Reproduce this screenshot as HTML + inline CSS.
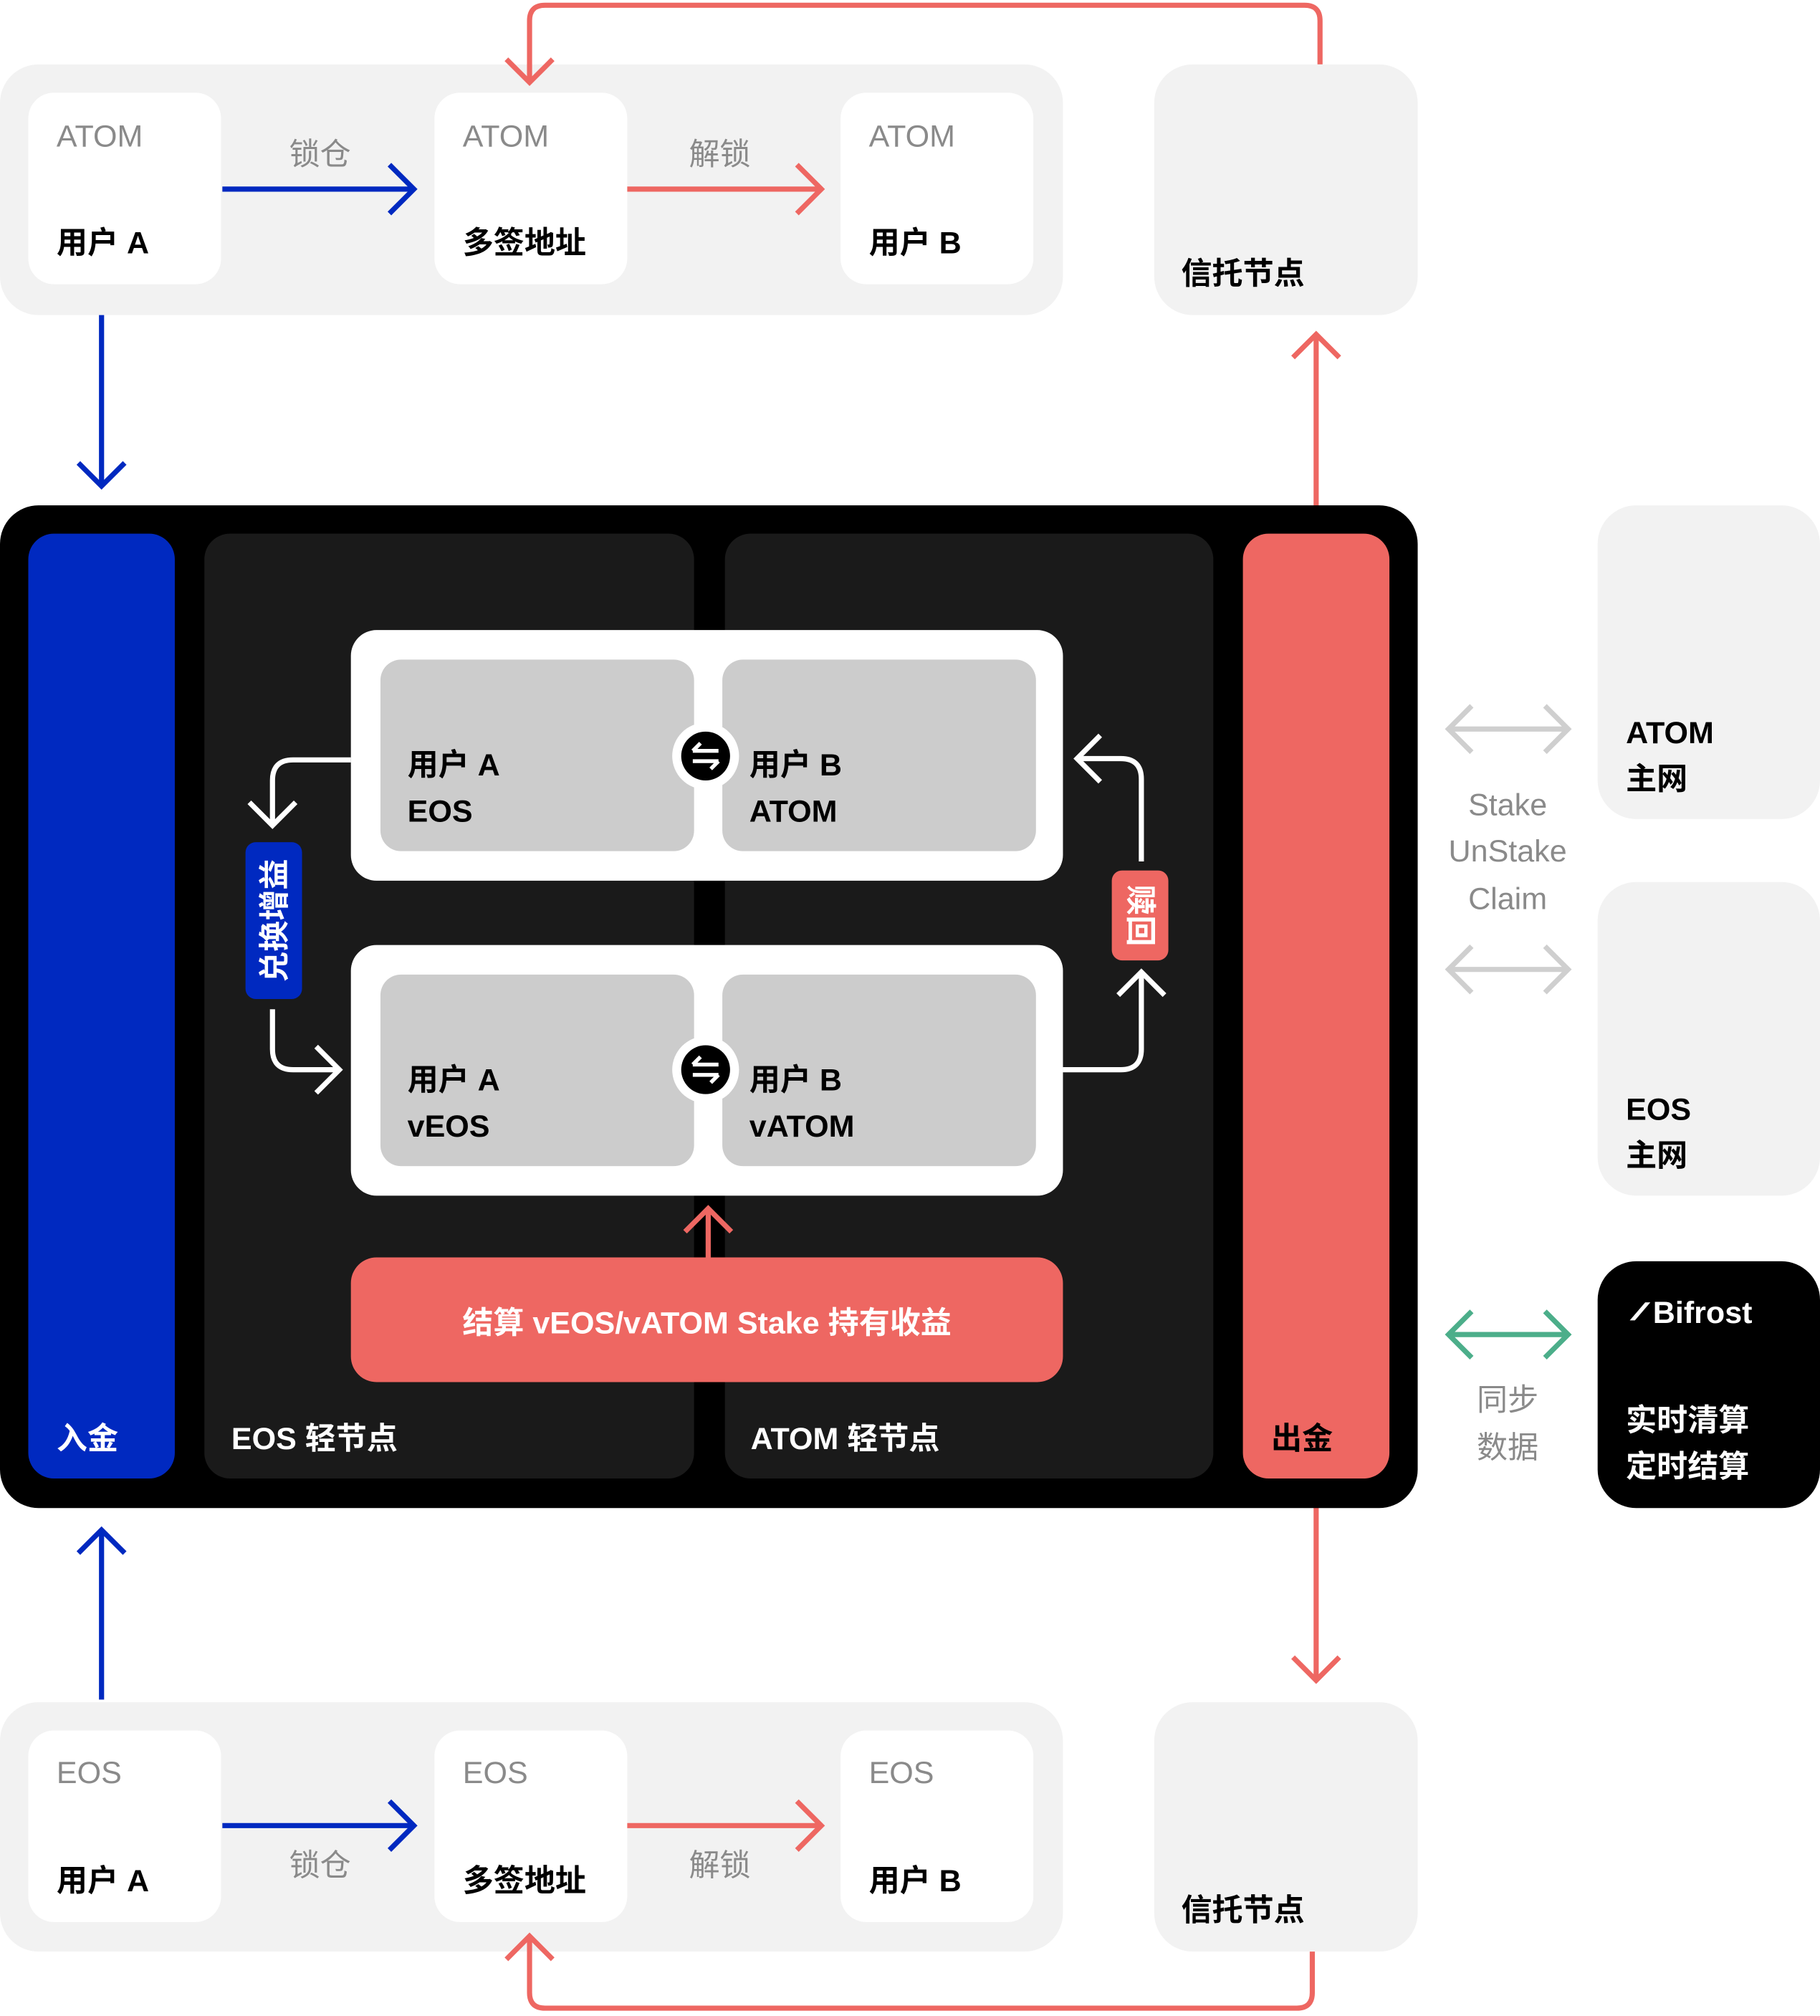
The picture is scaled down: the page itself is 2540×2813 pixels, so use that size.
<!DOCTYPE html>
<html><head><meta charset="utf-8"><style>
html,body{margin:0;padding:0;background:#fff;}
svg{display:block;}
text{font-family:"Liberation Sans","Noto Sans CJK SC",sans-serif;}
</style></head><body>
<svg width="2540" height="2813" viewBox="0 0 1416 1568" xmlns="http://www.w3.org/2000/svg">
<defs>
<style>
.g{fill:#8a8a8a;font-size:24px;}
.b{fill:#000;font-size:24px;font-weight:bold;}
.w{fill:#fff;font-size:24px;font-weight:bold;}
.bl{stroke:#0029c0;stroke-width:4;fill:none;}
.rd{stroke:#ee6762;stroke-width:4;fill:none;}
.wh{stroke:#fff;stroke-width:4;fill:none;}
.gr{stroke:#cfcfcf;stroke-width:4;fill:none;}
.gn{stroke:#4cae8a;stroke-width:4;fill:none;}
</style>
</defs>
<rect width="1416" height="1568" fill="#fff"/>

<!-- Top flow -->
<rect x="0" y="50" width="827" height="195" rx="30" fill="#f2f2f2"/>
<rect x="22" y="72" width="150" height="149" rx="20" fill="#fff"/>
<rect x="338" y="72" width="150" height="149" rx="20" fill="#fff"/>
<rect x="654" y="72" width="150" height="149" rx="20" fill="#fff"/>
<path class="rd" d="M1027 50 V16 Q1027 4 1015 4 H424 Q412 4 412 16 V64 M394 46 L412 64 L430 46"/>
<text class="g" x="44" y="114">ATOM</text><text class="b" x="44" y="197">用户 A</text>
<text class="g" x="360" y="114">ATOM</text><text class="b" x="360" y="197">多签地址</text>
<text class="g" x="676" y="114">ATOM</text><text class="b" x="676" y="197">用户 B</text>
<path class="bl" d="M173 147 H321 M303 128 L322 147 L303 166"/>
<text class="g" x="249" y="128" text-anchor="middle">锁仓</text>
<path class="rd" d="M488 147 H638 M620 128 L639 147 L620 166"/>
<text class="g" x="560" y="128" text-anchor="middle">解锁</text>
<rect x="898" y="50" width="205" height="195" rx="30" fill="#f2f2f2"/>
<text class="b" x="919" y="221">信托节点</text>

<path class="bl" d="M79 245 V378 M61 360 L79 378 L97 360"/>
<path class="rd" d="M1024 415 V260 M1006 278 L1024 260 L1042 278"/>
<path class="rd" d="M1024 1150 V1307 M1006 1289 L1024 1307 L1042 1289"/>

<!-- Main black -->
<rect x="0" y="393" width="1103" height="780" rx="30" fill="#000"/>
<rect x="22" y="415" width="114" height="735" rx="20" fill="#0029c0"/>
<text class="w" x="44" y="1127">入金</text>
<rect x="159" y="415" width="381" height="735" rx="20" fill="#1a1a1a"/>
<rect x="564" y="415" width="380" height="735" rx="20" fill="#1a1a1a"/>
<text class="w" x="180" y="1127">EOS 轻节点</text>
<text class="w" x="584" y="1127">ATOM 轻节点</text>
<rect x="967" y="415" width="114" height="735" rx="20" fill="#ee6762"/>
<text class="b" x="989" y="1127">出金</text>

<rect x="273" y="490" width="554" height="195" rx="20" fill="#fff"/>
<rect x="296" y="513" width="244" height="149" rx="16" fill="#cccccc"/>
<rect x="562" y="513" width="244" height="149" rx="16" fill="#cccccc"/>
<text class="b" x="317" y="603">用户 A</text><text class="b" x="317" y="639">EOS</text>
<text class="b" x="583" y="603">用户 B</text><text class="b" x="583" y="639">ATOM</text>
<circle cx="549" cy="588" r="26" fill="#fff"/><circle cx="549" cy="588" r="19" fill="#000"/>
<path d="M539 584 H559 M545 578 L539 584 M559 592 H539 M553 598 L559 592" stroke="#fff" stroke-width="3" fill="none"/>

<rect x="273" y="735" width="554" height="195" rx="20" fill="#fff"/>
<rect x="296" y="758" width="244" height="149" rx="16" fill="#cccccc"/>
<rect x="562" y="758" width="244" height="149" rx="16" fill="#cccccc"/>
<text class="b" x="317" y="848">用户 A</text><text class="b" x="317" y="884">vEOS</text>
<text class="b" x="583" y="848">用户 B</text><text class="b" x="583" y="884">vATOM</text>
<circle cx="549" cy="832" r="26" fill="#fff"/><circle cx="549" cy="832" r="19" fill="#000"/>
<path d="M539 828 H559 M545 822 L539 828 M559 836 H539 M553 842 L559 836" stroke="#fff" stroke-width="3" fill="none"/>

<path class="rd" d="M551 978 V940 M533 958 L551 940 L569 958"/>
<rect x="273" y="978" width="554" height="97" rx="20" fill="#ee6762"/>
<text class="w" x="550" y="1037" text-anchor="middle">结算 vEOS/vATOM Stake 持有收益</text>

<path class="wh" d="M273 591 H228 Q212 591 212 607 V642 M194 624 L212 642 L230 624"/>
<rect x="191" y="655" width="44" height="122" rx="8" fill="#0029c0"/>
<text class="w" x="0" y="0" transform="translate(222 716) rotate(-90)" text-anchor="middle">兑换增益</text>
<path class="wh" d="M212 785 V816 Q212 832 228 832 H264 M246 814 L264 832 L246 850"/>

<path class="wh" d="M827 832 H872 Q888 832 888 816 V756 M870 774 L888 756 L906 774"/>
<rect x="865" y="677" width="44" height="70" rx="8" fill="#ee6762"/>
<text class="w" x="0" y="0" transform="translate(879 712) rotate(90)" text-anchor="middle">赎回</text>
<path class="wh" d="M888 670 V606 Q888 590 872 590 H838 M856 572 L838 590 L856 608"/>

<!-- Right column -->
<rect x="1243" y="393" width="173" height="244" rx="30" fill="#f2f2f2"/>
<text class="b" x="1265" y="578">ATOM</text><text class="b" x="1265" y="614">主网</text>
<rect x="1243" y="686" width="173" height="244" rx="30" fill="#f2f2f2"/>
<text class="b" x="1265" y="871">EOS</text><text class="b" x="1265" y="907">主网</text>
<path class="gr" d="M1127 567 H1220 M1145 549 L1127 567 L1145 585 M1202 549 L1220 567 L1202 585"/>
<path class="gr" d="M1127 754 H1220 M1145 736 L1127 754 L1145 772 M1202 736 L1220 754 L1202 772"/>
<text class="g" x="1173" y="634" text-anchor="middle">Stake</text>
<text class="g" x="1173" y="670" text-anchor="middle">UnStake</text>
<text class="g" x="1173" y="707" text-anchor="middle">Claim</text>

<rect x="1243" y="981" width="173" height="192" rx="30" fill="#000"/>
<path d="M1268 1027 L1272 1027 L1284 1013 L1280 1013 Z" fill="#fff"/>
<text class="w" x="1286" y="1029">Bifrost</text>
<text class="w" x="1265" y="1113">实时清算</text><text class="w" x="1265" y="1149">定时结算</text>
<path class="gn" d="M1127 1038 H1220 M1145 1020 L1127 1038 L1145 1056 M1202 1020 L1220 1038 L1202 1056"/>
<text class="g" x="1173" y="1097" text-anchor="middle">同步</text>
<text class="g" x="1173" y="1134" text-anchor="middle">数据</text>

<!-- Bottom flow -->
<path class="bl" d="M79 1322 V1190 M61 1208 L79 1190 L97 1208"/>
<rect x="0" y="1324" width="827" height="194" rx="30" fill="#f2f2f2"/>
<rect x="22" y="1346" width="150" height="149" rx="20" fill="#fff"/>
<rect x="338" y="1346" width="150" height="149" rx="20" fill="#fff"/>
<rect x="654" y="1346" width="150" height="149" rx="20" fill="#fff"/>
<text class="g" x="44" y="1387">EOS</text><text class="b" x="44" y="1471">用户 A</text>
<text class="g" x="360" y="1387">EOS</text><text class="b" x="360" y="1471">多签地址</text>
<text class="g" x="676" y="1387">EOS</text><text class="b" x="676" y="1471">用户 B</text>
<path class="bl" d="M173 1420 H321 M303 1401 L322 1420 L303 1439"/>
<text class="g" x="249" y="1459" text-anchor="middle">锁仓</text>
<path class="rd" d="M488 1420 H638 M620 1401 L639 1420 L620 1439"/>
<text class="g" x="560" y="1459" text-anchor="middle">解锁</text>
<rect x="898" y="1324" width="205" height="194" rx="30" fill="#f2f2f2"/>
<text class="b" x="919" y="1494">信托节点</text>
<path class="rd" d="M1021 1518 V1550 Q1021 1562 1009 1562 H424 Q412 1562 412 1550 V1506 M394 1524 L412 1506 L430 1524"/>
</svg>
</body></html>
